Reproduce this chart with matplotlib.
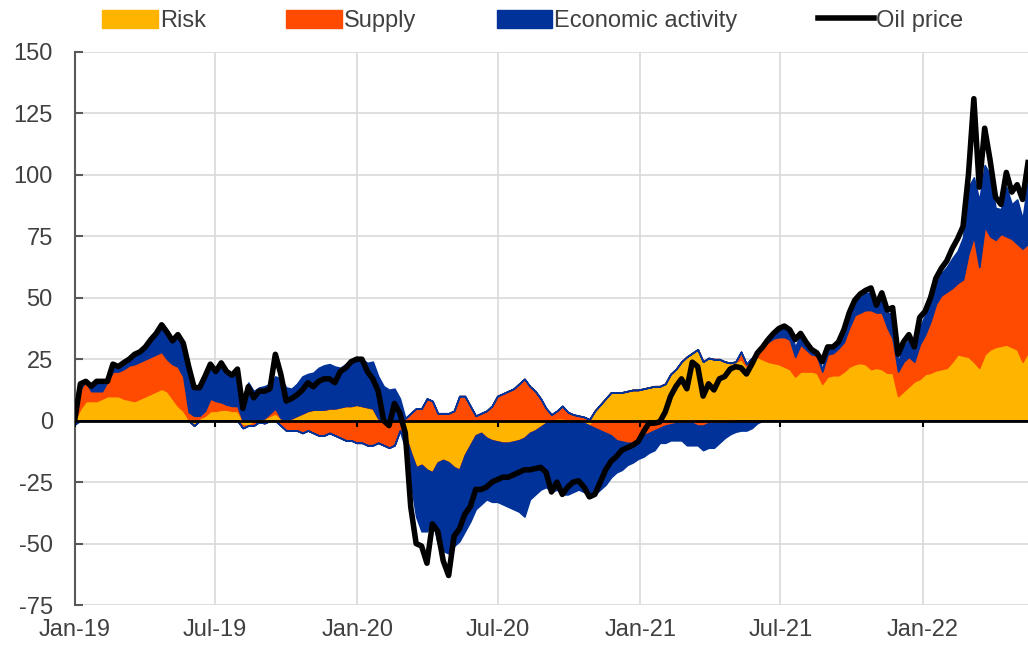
import numpy as np
import pandas as pd
import matplotlib
matplotlib.use('Agg')
import matplotlib.pyplot as plt
import matplotlib.dates as mdates
from matplotlib.patches import Patch
from matplotlib.lines import Line2D

# weekly observations, Jan-19 to mid May-22
dates = pd.date_range('2019-01-01', periods=177, freq='7D')

risk = [0.5, 5, 8, 8, 8, 9, 10, 10, 10, 9, 8.5, 8, 9, 10, 11, 12, 13, 12, 9, 6,
        4, 0.5, -2, 1, 2, 4, 4, 4.5, 4.5, 4, 4, -2, -2, -1, 0.5, 1, 2, 3, 1, 0.5,
        1, 2, 3, 4, 4.5, 4.5, 4.5, 5, 5, 5.5, 6, 6, 6.5, 6, 5.5, 5, 1, 0, 0, 0,
        0, -6, -13, -19, -18, -20, -21, -17, -16, -17, -19, -20, -14, -10, -6, -5, -7, -8, -8.5, -9,
        -9, -8.5, -8, -7, -5, -4, -2.5, -1, 0.5, 1, 1, 0.5, 0, 0, -1, -2, 4, 6.5, 9, 11.5,
        11.5, 11.5, 12, 12.5, 12.5, 13, 13.5, 14, 14, 15, 19, 21, 24, 26, 27.5, 29, 24, 25.5, 25, 25,
        24, 23.5, 24, 25, 22, 24.5, 26, 25, 24, 23.5, 23, 22, 21, 18, 20, 20, 20, 19.5, 15, 18,
        18.5, 18.5, 20, 22, 23, 23.5, 23, 21, 21.5, 21, 19.5, 19.5, 10, 12, 14, 16, 17, 19, 19.5, 20.5,
        21, 21.5, 24, 27, 26.5, 26, 24, 21.5, 27, 29, 30, 30.5, 31, 30, 29, 24, 28]

supply = [0.5, 8, 8, 4, 4, 3, 6, 10, 10, 12, 14, 15, 15, 15, 15, 15, 15, 13, 14, 16,
          14, 3, 2, 1, 2, 5, 4, 3, 2, 2, 2, -1, 0.5, -1, -0.5, -1, 1, 2, -2, -4,
          -4, -4, -5, -4, -5, -6, -6, -5, -6, -7, -8, -8, -9, -9, -10, -10, -9, -10, -11, -10,
          -4, 1, 3, 5, 5, 9, 8, 3, 3, 3, 4, 10, 10, 6, 2, 3, 4, 6, 10, 11,
          12, 13, 15, 17, 14, 12, 9, 5, 2, 3, 5, 3, 2.5, 2, 1.5, 0.5, -3, -4, -5, -6,
          -8, -8.5, -9, -9, -7.5, -6, -5, -4, -3, -2, -1.5, -1, -1, -1, -1, -2, -2, -1, -1, -1,
          -1, -0.5, 0, 3, 1, 1, 2, 5, 8, 10, 11, 12, 12, 8, 11, 9, 7, 7, 5, 9,
          9, 11, 12, 16, 20, 20.5, 22, 24, 22.5, 23, 18.5, 14, 10, 12, 12, 8, 14, 16, 21, 27,
          30, 31, 30, 29, 31, 42, 51, 41, 52, 46, 43.6, 45.5, 44, 44, 43, 46, 44]

econ = [-1.5, 2, 0, 2, 4, 4, 0, 3, 2, 2.6, 2.5, 4, 4, 5, 7, 8.5, 11, 11, 9.5, 13,
        13.5, 17, 11.5, 11, 14, 14, 12, 16, 13, 12, 14, 9, 15, 12, 13, 13, 12, 13, 16, 13,
        12, 13, 15, 15, 15, 17, 18, 18, 17, 16, 17, 18.5, 19.5, 19, 18, 19, 17, 14, 12.6, 13,
        9, -5, -12, -20, -27, -25, -19, -33, -37, -37, -32, -29, -31, -31, -30, -29, -25, -25, -24.5, -25,
        -26, -27.5, -29, -32, -27, -26, -25.5, -26, -29, -28, -30, -30, -29, -28, -28, -28, -27, -24, -21, -17,
        -13, -11.5, -9, -8, -8, -8.6, -8, -8, -6, -7, -6.5, -7, -7, -9, -9, -8, -10, -10, -10, -8,
        -6, -5, -4.5, -4, -4, -3, -1, 0, 1, 2, 3, 4, 4, 4, 4, 3, 2, 1, 1, 2,
        2, 2.5, 4, 5, 5, 6, 7, 7, 4, 6, 6, 10, 4, 6, 7, 4, 7, 8, 8, 8,
        9, 10, 12, 13, 17, 27, 24, 27, 25, 25, 13, 10, 20, 14, 18, 12, 26]

oil = [1, 15, 16, 14, 16, 16, 16, 23, 22, 23.6, 25, 27, 28, 30, 33, 35.5, 39, 36, 32.5, 35,
       31.5, 22, 13.5, 13.4, 18, 23, 20, 23.5, 20, 18.5, 21, 5, 13.8, 9.3, 12, 12, 13, 27, 19, 8,
       9, 10.5, 12.5, 15.4, 13.8, 16, 17, 17, 15.5, 20, 21.5, 24, 25, 25, 20, 17, 12, 0, -2, 7,
       3, -5, -35, -50, -51, -58, -42, -45, -57, -63, -47, -44, -38, -35, -28, -28, -27, -25, -24, -23,
       -23, -22, -21, -20, -20, -19.5, -19, -21, -29, -25, -30, -27, -25, -24.5, -27, -31, -30, -25, -20, -16.5,
       -14.6, -12, -11, -10, -8.5, -4.5, -1, -1, -0.5, 3.5, 10, 14, 17, 13, 23.8, 22, 10, 15, 12.5, 17,
       18, 21, 22, 21.5, 19, 23, 27.5, 30, 33, 35.5, 37.5, 38.5, 37, 33, 35.5, 32, 29, 27.6, 24, 30,
       30, 32, 37, 44, 49, 51.5, 53, 54, 47, 52, 45, 46, 27, 32, 35, 30, 42, 44.5, 50, 58,
       62, 65, 70, 74, 79, 100, 131, 95, 119, 106, 91, 88, 101, 93, 96, 90, 105]

labels = ['Risk', 'Supply', 'Economic activity']
colors = ['#FFB400', '#FF4B00', '#003299']

plt.rcParams['font.family'] = ['Liberation Sans', 'DejaVu Sans']
plt.rcParams['axes.unicode_minus'] = False
fs = 17

fig = plt.figure(figsize=(10.28, 6.48), dpi=100, facecolor='w')
ax = fig.add_axes([75 / 1028, 43 / 648, 953 / 1028, 553 / 648])

x = mdates.date2num(dates)
pos_base = np.zeros(len(x))
neg_base = np.zeros(len(x))
for vals, col in zip([risk, supply, econ], colors):
    v = np.array(vals, dtype=float)
    p = np.clip(v, 0, None)
    q = np.clip(v, None, 0)
    ax.fill_between(x, pos_base, pos_base + p, color=col, lw=1.2, zorder=2)
    ax.fill_between(x, neg_base, neg_base + q, color=col, lw=1.2, zorder=2)
    pos_base += p
    neg_base += q

ax.axhline(0, color='black', lw=2, zorder=3)
ax.plot(x, oil, color='black', lw=4, solid_joinstyle='round', zorder=4)

ax.set_xlim(x[0], x[-1])
ax.set_ylim(-75, 150)
ax.set_yticks(np.arange(-75, 151, 25))
ax.xaxis.set_major_locator(mdates.MonthLocator(bymonth=[1, 7]))
ax.xaxis.set_major_formatter(mdates.DateFormatter('%b-%y'))

ax.set_axisbelow(True)
ax.grid(True, color='#d9d9d9', lw=1.2)
for s in ('top', 'right', 'bottom'):
    ax.spines[s].set_visible(False)
ax.spines['left'].set_color('#595959')
ax.spines['left'].set_linewidth(1.5)
ax.tick_params(axis='y', direction='in', length=6, width=1.5, color='#595959',
               pad=16, labelsize=fs, labelcolor='#404040')
ax.tick_params(axis='x', length=0, pad=10, labelsize=fs, labelcolor='#404040')

# small tick marks hanging below the zero line
xt = [t for t in ax.get_xticks() if x[0] <= t <= x[-1]]
ax.vlines(xt, -2.6, 0, color='black', lw=1.5, zorder=3)

handles = [Patch(facecolor=c, edgecolor=c) for c in colors]
handles.append(Line2D([], [], color='black', lw=4))
fig.legend(handles, labels + ['Oil price'], loc='center', bbox_to_anchor=(0.518, 0.968),
           ncol=4, frameon=False, fontsize=fs, handlelength=2.35, handleheight=0.8,
           handletextpad=0.1, columnspacing=3.4, labelcolor='#404040')

fig.savefig('out.png', dpi=100)
